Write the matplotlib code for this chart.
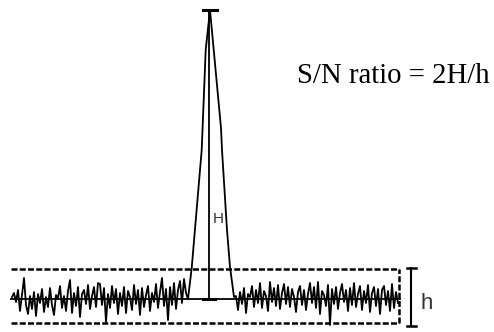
import numpy as np
import matplotlib
matplotlib.use("Agg")
import matplotlib.pyplot as plt

# baseline noise (offset from baseline), left of the peak, 2 px apart from x=12
noise_left = [2, 6, -3, 9, -12, 4, 21, -6, -15, 3,
              -10, 7, -17, 5, -4, 10, -13, 2, -8, 11,
              -6, -16, 4, 1, 13, -9, 3, -12, 8, 19,
              -14, 6, -7, 12, -18, 5, 9, -5, 14, -10,
              3, 12, -8, 16, 15, -6, 11, -23, 5, -9,
              13, -4, 10, -15, 6, -7, 12, -14, 8, 2,
              -11, 14, -5, 9, -16, 11, -8, 4, 13, -12,
              6, -3, 15, -9, 7, 21, -7, 10, -21, 12,
              -6, 16, -10, 9, 18, -4, 20, 6]
# noise right of the peak, from x=236
noise_right = [3, -11, 7, -5, 11, -14, 5, 2, 13, -8,
               9, -4, 16, -9, 8, 3, -12, 17, -3, 11,
               -7, 14, -10, 6, 15, -5, 12, -8, 10, 2,
               -13, 7, 13, -6, 9, -11, 5, 16, -4, 12,
               -9, 17, -15, 8, 4, -7, 14, -26, 10, -5,
               12, -10, 6, 15, -3, 9, -12, 11, -6, 16,
               -8, 5, 13, -11, 8, -4, 14, -13, 6, 12,
               -7, 10, -15, 9, 13, -6, 8, -12, 15, -9,
               7, -4]
# peak outline (x, height)
peak_x = [188, 191.7, 201.7, 205.7, 210, 221, 222, 227, 230, 234]
peak_y = [0, 31, 149, 249, 289, 171, 149, 69, 32, 2]

H_top = 289
noise_hi, noise_lo = 30, -24

x_left = 12 + 2 * np.arange(len(noise_left))
x_right = 236 + 2 * np.arange(len(noise_right))
xs = np.concatenate([x_left, peak_x, x_right])
ys = np.concatenate([noise_left, peak_y, noise_right])

fig = plt.figure(figsize=(4.94, 3.32), dpi=100)
ax = fig.add_axes([0, 0, 1, 1])
ax.set_xlim(0, 494)
ax.set_ylim(-33, 299)
ax.axis("off")

ax.plot(xs, ys, color="black", lw=1.3)
ax.plot([11, 400], [0, 0], color="black", lw=1.3)

# H marker
ax.plot([209, 209], [0, H_top], color="black", lw=1.3)
ax.plot([203, 217], [H_top, H_top], color="black", lw=2.2)
ax.plot([203, 215], [0, 0], color="black", lw=2.2)

# noise band
dash = dict(color="black", lw=1.8, dashes=(2.4, 0.9))
ax.plot([11, 399], [noise_hi, noise_hi], **dash)
ax.plot([11, 399], [noise_lo, noise_lo], **dash)
ax.plot([399, 399], [noise_lo, noise_hi], **dash)

# h bracket
ax.plot([411, 411], [-27, 31], color="black", lw=1.5)
ax.plot([407, 416], [31, 31], color="black", lw=1.8)
ax.plot([407, 416], [-27, -27], color="black", lw=1.8)

ax.text(213, 76, "H", fontsize=11, family="Liberation Sans", color="#333333", va="baseline")
ax.text(420, -10, "h", fontsize=16, family="Liberation Sans", color="#333333", va="baseline")
ax.text(297, 216, "S/N ratio = 2H/h", fontsize=20.7, family="Liberation Serif", va="baseline")

fig.savefig("out.png", dpi=100)
